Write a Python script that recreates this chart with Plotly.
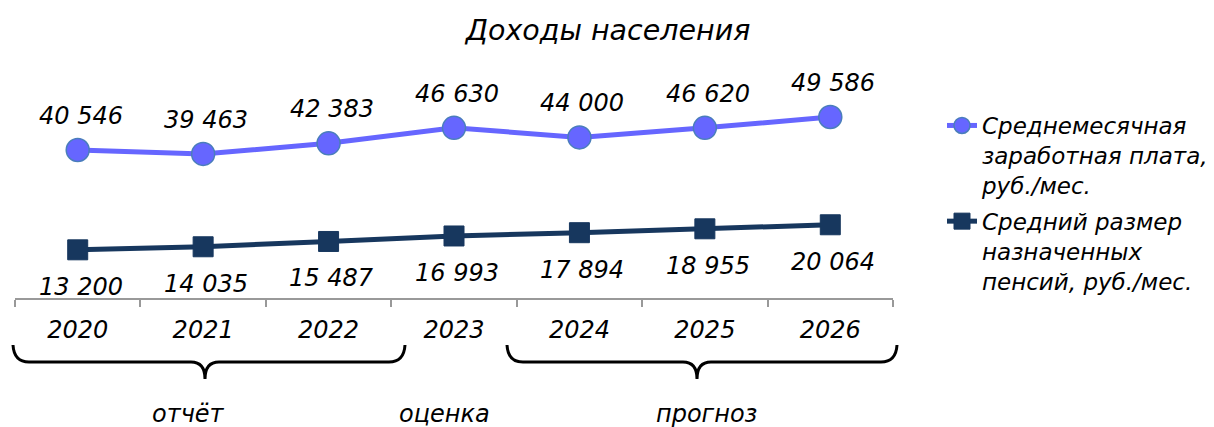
import plotly.graph_objects as go

years = ["2020", "2021", "2022", "2023", "2024", "2025", "2026"]
salary = [40546, 39463, 42383, 46630, 44000, 46620, 49586]
pension = [13200, 14035, 15487, 16993, 17894, 18955, 20064]
salary_name = "Среднемесячная<br>заработная плата,<br>руб./мес."
pension_name = "Средний размер<br>назначенных<br>пенсий, руб./мес."
title_text = "Доходы населения"
period_labels = ["отчёт", "оценка", "прогноз"]

# page body has an 8px margin: the figure is drawn from (8, 8) in the window
OFF = 8
W, H = 1214 - OFF, 427 - OFF
ML, MT = 15 - OFF, 79 - OFF
PW = 878
AXIS_Y = 298 - OFF
MR = W - ML - PW
MB = H - AXIS_Y
PH = AXIS_Y - MT

FONT = "DejaVu Sans"


def fmt(v):
    return f"{v:,}".replace(",", " ")


def px(sx):
    return (sx - OFF - ML) / PW


def py(sy):
    return (AXIS_Y - (sy - OFF)) / PH


def ifont(size):
    return dict(family=FONT, size=size, color="black", style="italic")


fig = go.Figure()
fig.add_trace(go.Scatter(
    x=years, y=salary, name=salary_name, mode="lines+markers", legendgroup="a",
    line=dict(color="#6666FF", width=5),
    marker=dict(symbol="circle", size=23, color="#6666FF",
                line=dict(color="#4A7EBB", width=1.5)),
))
fig.add_trace(go.Scatter(
    x=years, y=pension, name=pension_name, mode="lines+markers", legendgroup="b",
    line=dict(color="#17375E", width=5),
    marker=dict(symbol="square", size=20, color="#17375E",
                line=dict(color="#17375E", width=1)),
))

annotations = []
for i, yv in enumerate(salary):
    annotations.append(dict(x=i, y=yv, xref="x", yref="y", text=fmt(yv), showarrow=False,
                            yshift=34, xshift=3, font=ifont(24)))
for i, yv in enumerate(pension):
    annotations.append(dict(x=i, y=yv, xref="x", yref="y", text=fmt(yv), showarrow=False,
                            yshift=-37, xshift=3, font=ifont(24)))

label_pos = [(188, 414), (444, 414), (706, 414)]
for t, (lx, ly) in zip(period_labels, label_pos):
    annotations.append(dict(xref="paper", yref="paper", x=px(lx), y=py(ly), text=t,
                            showarrow=False, xanchor="center", yanchor="middle",
                            font=ifont(24)))


def brace(x0, x1, xc, ytop=345, ybar=362, ytip=379):
    pts = [
        ("M", [(x0, ytop)]),
        ("Q", [(x0 + 1, ybar), (x0 + 16, ybar)]),
        ("L", [(xc - 14, ybar)]),
        ("Q", [(xc, ybar), (xc, ytip)]),
        ("Q", [(xc, ybar), (xc + 14, ybar)]),
        ("L", [(x1 - 16, ybar)]),
        ("Q", [(x1 - 1, ybar), (x1, ytop)]),
    ]
    s = ""
    for cmd, ps in pts:
        s += cmd + " " + " ".join(f"{px(a):.5f},{py(b):.5f}" for a, b in ps) + " "
    return s.strip()


shapes = [
    dict(type="path", xref="paper", yref="paper", path=brace(13, 405, 205),
         line=dict(color="black", width=3)),
    dict(type="path", xref="paper", yref="paper", path=brace(507, 897, 697),
         line=dict(color="black", width=3)),
]

fig.update_layout(
    width=W, height=H,
    margin=dict(l=ML, r=MR, t=MT, b=MB, autoexpand=False),
    paper_bgcolor="white", plot_bgcolor="white",
    title=dict(text=title_text, x=(608 - OFF) / W, xref="container", xanchor="center",
               y=1 - (30 - OFF) / H, yanchor="middle", yref="container",
               font=ifont(28.5)),
    xaxis=dict(type="category", showgrid=False, showline=True, linecolor="#999999",
               linewidth=2, ticks="outside", tickson="boundaries", ticklen=7,
               tickcolor="#999999", tickwidth=2, zeroline=False,
               tickfont=ifont(24), ticklabelstandoff=9, range=[-0.5, 6.5]),
    yaxis=dict(range=[0, 60000], visible=False, showgrid=False, zeroline=False),
    showlegend=True,
    legend=dict(x=px(942), xanchor="left", y=py(104), yanchor="top", valign="top",
                font=ifont(23), bgcolor="rgba(0,0,0,0)", tracegroupgap=3),
    annotations=annotations,
    shapes=shapes,
)

fig.write_html("out.html")
